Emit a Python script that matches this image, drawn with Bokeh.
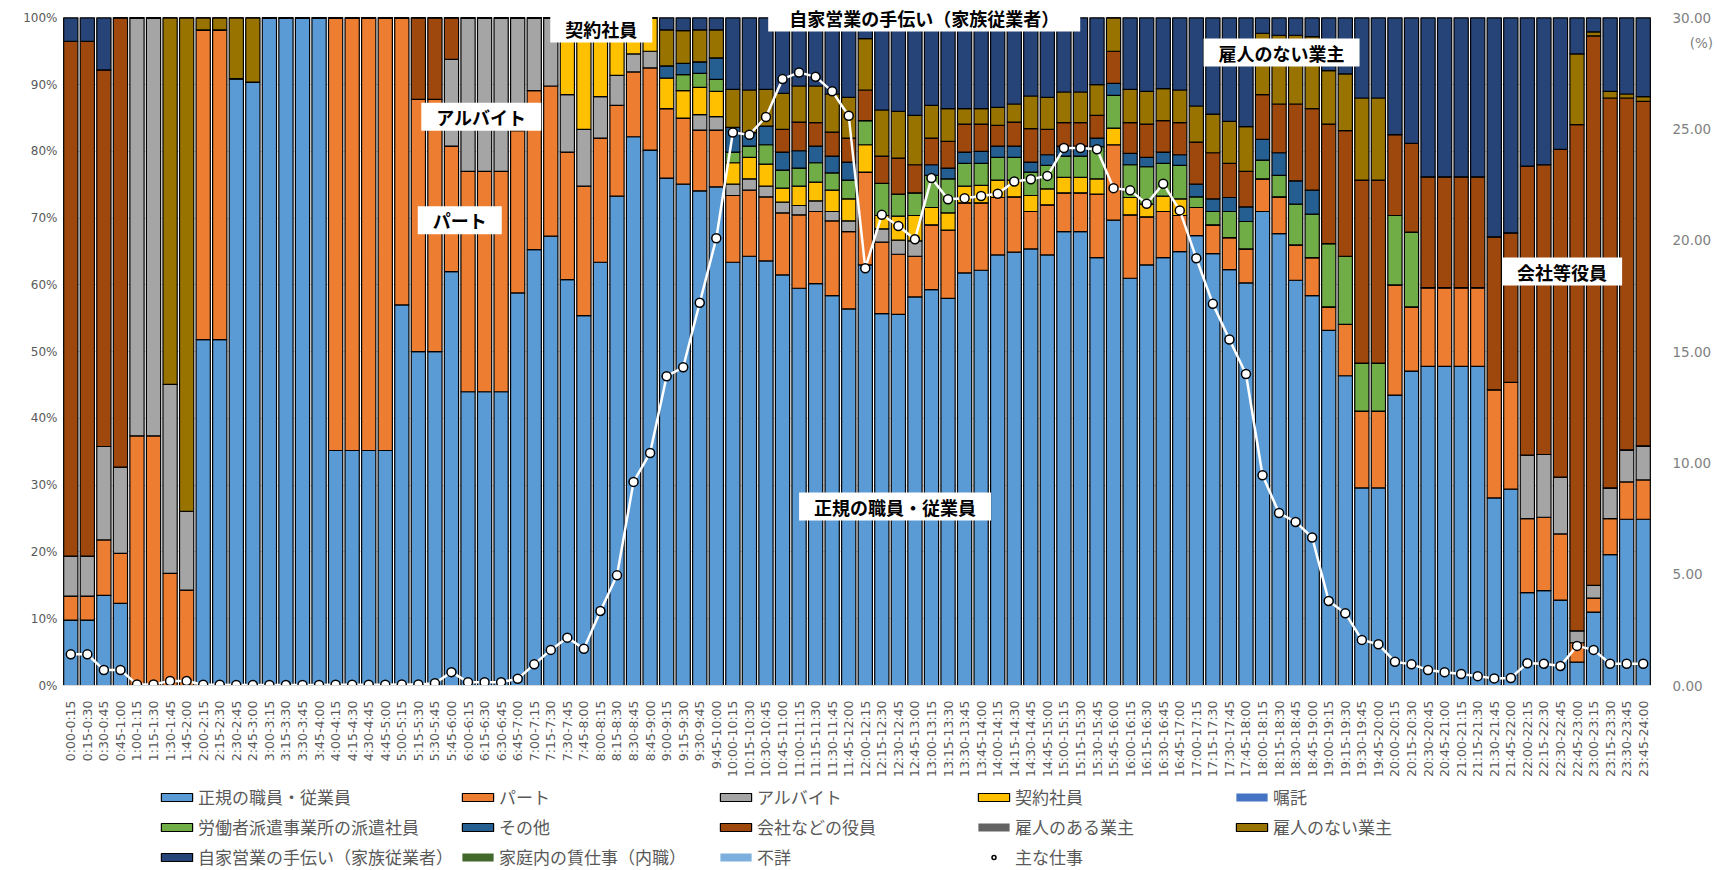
import math
from bokeh.plotting import figure
from bokeh.layouts import column
from bokeh.models import (ColumnDataSource, Range1d, LinearAxis, FixedTicker, PrintfTickFormatter,
                          NumeralTickFormatter, Legend, LegendItem, Label)
from bokeh.transform import stack
from bokeh.core.properties import value
from bokeh.embed import file_html
from bokeh.resources import INLINE

time_labels = [
    "0:00-0:15", "0:15-0:30", "0:30-0:45", "0:45-1:00", "1:00-1:15", "1:15-1:30", "1:30-1:45", "1:45-2:00",
    "2:00-2:15", "2:15-2:30", "2:30-2:45", "2:45-3:00", "3:00-3:15", "3:15-3:30", "3:30-3:45", "3:45-4:00",
    "4:00-4:15", "4:15-4:30", "4:30-4:45", "4:45-5:00", "5:00-5:15", "5:15-5:30", "5:30-5:45", "5:45-6:00",
    "6:00-6:15", "6:15-6:30", "6:30-6:45", "6:45-7:00", "7:00-7:15", "7:15-7:30", "7:30-7:45", "7:45-8:00",
    "8:00-8:15", "8:15-8:30", "8:30-8:45", "8:45-9:00", "9:00-9:15", "9:15-9:30", "9:30-9:45", "9:45-10:00",
    "10:00-10:15", "10:15-10:30", "10:30-10:45", "10:45-11:00", "11:00-11:15", "11:15-11:30", "11:30-11:45", "11:45-12:00",
    "12:00-12:15", "12:15-12:30", "12:30-12:45", "12:45-13:00", "13:00-13:15", "13:15-13:30", "13:30-13:45", "13:45-14:00",
    "14:00-14:15", "14:15-14:30", "14:30-14:45", "14:45-15:00", "15:00-15:15", "15:15-15:30", "15:30-15:45", "15:45-16:00",
    "16:00-16:15", "16:15-16:30", "16:30-16:45", "16:45-17:00", "17:00-17:15", "17:15-17:30", "17:30-17:45", "17:45-18:00",
    "18:00-18:15", "18:15-18:30", "18:30-18:45", "18:45-19:00", "19:00-19:15", "19:15-19:30", "19:30-19:45", "19:45-20:00",
    "20:00-20:15", "20:15-20:30", "20:30-20:45", "20:45-21:00", "21:00-21:15", "21:15-21:30", "21:30-21:45", "21:45-22:00",
    "22:00-22:15", "22:15-22:30", "22:30-22:45", "22:45-23:00", "23:00-23:15", "23:15-23:30", "23:30-23:45", "23:45-24:00",
]

# 正規の職員・従業員
regular = [9.8, 9.8, 13.5, 12.3, 0, 0, 0, 0, 51.8, 51.8, 90.9, 90.4,
           100, 100, 100, 100, 35.2, 35.2, 35.2, 35.2, 57.0, 50.0, 50.0, 62.0,
           44.0, 44.0, 44.0, 58.8, 65.3, 67.3, 60.8, 55.4, 63.4, 73.3, 82.2, 80.2,
           76.0, 75.1, 74.1, 74.7, 63.4, 64.3, 63.6, 61.5, 59.5, 60.2, 58.4, 56.4,
           63.0, 55.7, 55.6, 58.2, 59.3, 58.0, 61.8, 62.2, 64.5, 64.9, 65.4, 64.5,
           68.0, 68.0, 64.1, 69.7, 61.0, 63.0, 64.1, 65.0, 67.4, 64.7, 62.3, 60.3,
           71.0, 67.7, 60.7, 58.4, 53.2, 46.4, 29.6, 29.6, 43.5, 47.1, 47.8, 47.8,
           47.8, 47.8, 28.1, 29.4, 13.9, 14.2, 12.8, 3.5, 11.0, 19.6, 24.9, 24.9]
# パート
part = [3.6, 3.6, 8.3, 7.5, 37.4, 37.4, 16.8, 14.3, 46.4, 46.4, 0, 0,
        0, 0, 0, 0, 64.8, 64.8, 64.8, 64.8, 43.0, 37.8, 37.8, 18.8,
        33.0, 33.0, 33.0, 24.3, 23.8, 22.5, 19.1, 19.4, 18.6, 13.6, 9.7, 12.3,
        10.4, 9.9, 9.1, 8.5, 10.0, 9.9, 9.6, 9.3, 11.0, 10.8, 11.2, 11.6,
        13.9, 10.7, 9.0, 6.1, 9.7, 10.2, 10.5, 10.1, 8.6, 8.3, 5.6, 7.5,
        5.8, 5.8, 9.5, 11.3, 9.5, 7.2, 6.9, 5.4, 4.2, 4.3, 4.8, 5.1,
        4.9, 5.5, 5.3, 5.7, 3.5, 7.7, 11.5, 11.5, 16.5, 9.6, 11.8, 11.8,
        11.8, 11.8, 16.2, 16.0, 11.1, 11.0, 9.9, 2.9, 2.1, 5.4, 5.6, 5.9]
# アルバイト
arbeit = [6.0, 6.0, 14.0, 12.9, 62.6, 62.6, 28.3, 11.8, 0, 0, 0, 0,
          0, 0, 0, 0, 0, 0, 0, 0, 0, 0, 0, 13.0,
          23.0, 23.0, 23.0, 16.9, 10.9, 10.2, 8.6, 8.5, 6.2, 4.5, 2.7, 2.5,
          0, 0, 2.3, 2.0, 1.7, 1.7, 1.6, 1.6, 1.4, 1.6, 1.4, 1.6,
          0, 2.0, 2.1, 2.3, 0, 0, 0, 0, 0, 0, 0, 0,
          0, 0, 0, 0, 0, 0, 0, 0, 0, 0, 0, 0,
          0, 0, 0, 0, 0, 0, 0, 0, 0, 0, 0, 0,
          0, 0, 0, 0, 9.5, 9.4, 8.5, 1.8, 1.9, 4.6, 4.8, 5.1]
# 契約社員
contract = [0, 0, 0, 0, 0, 0, 0, 0, 0, 0, 0, 0,
            0, 0, 0, 0, 0, 0, 0, 0, 0, 0, 0, 0,
            0, 0, 0, 0, 0, 0, 11.5, 16.7, 11.8, 8.6, 5.4, 5.0,
            4.6, 4.1, 4.1, 3.8, 3.2, 3.2, 3.3, 2.1, 2.9, 2.8, 3.2, 3.3,
            4.1, 2.0, 3.6, 3.8, 2.6, 2.6, 2.5, 2.6, 2.6, 2.5, 2.4, 2.4,
            2.3, 2.3, 2.3, 2.5, 2.6, 1.9, 2.3, 2.5, 0, 0, 0, 0,
            0, 0, 0, 0, 0, 0, 0, 0, 0, 0, 0, 0,
            0, 0, 0, 0, 0, 0, 0, 0, 0, 0, 0, 0]
# 嘱託
shokutaku = [0] * 96
# 労働者派遣事業所の派遣社員
dispatched = [0, 0, 0, 0, 0, 0, 0, 0, 0, 0, 0, 0,
              0, 0, 0, 0, 0, 0, 0, 0, 0, 0, 0, 0,
              0, 0, 0, 0, 0, 0, 0, 0, 0, 0, 0, 0,
              0, 2.4, 2.1, 1.8, 1.6, 1.7, 2.9, 2.7, 2.7, 2.9, 2.6, 2.8,
              3.6, 4.8, 3.3, 3.4, 4.8, 5.1, 3.4, 3.3, 3.4, 3.4, 3.5, 3.5,
              3.2, 3.2, 4.8, 4.9, 4.9, 5.6, 4.9, 5.0, 1.6, 2.0, 3.9, 4.1,
              2.8, 3.2, 6.1, 6.5, 9.5, 10.2, 7.2, 7.2, 10.4, 11.2, 0, 0,
              0, 0, 0, 0, 0, 0, 0, 0, 0, 0, 0, 0]
# その他
other = [0, 0, 0, 0, 0, 0, 0, 0, 0, 0, 0, 0,
         0, 0, 0, 0, 0, 0, 0, 0, 0, 0, 0, 0,
         0, 0, 0, 0, 0, 0, 0, 0, 0, 0, 0, 0,
         1.8, 1.7, 1.7, 3.2, 3.7, 2.0, 2.8, 2.7, 2.6, 2.5, 2.5, 2.7,
         0, 0, 0, 0, 1.6, 1.6, 1.7, 1.8, 1.7, 1.7, 1.5, 1.6,
         1.5, 1.5, 1.3, 1.8, 1.7, 1.4, 1.7, 1.6, 1.9, 1.9, 2.1, 2.2,
         3.1, 3.4, 3.5, 3.6, 0, 0, 0, 0, 0, 0, 0, 0,
         0, 0, 0, 0, 0, 0, 0, 0, 0, 0, 0, 0]
# 会社などの役員
executive = [77.1, 77.1, 56.4, 67.3, 0, 0, 0, 0, 0, 0, 0, 0,
             0, 0, 0, 0, 0, 0, 0, 0, 0, 12.2, 12.2, 6.2,
             0, 0, 0, 0, 0, 0, 0, 0, 0, 0, 0, 0,
             0, 0, 0, 0, 0, 0, 0, 3.4, 4.3, 3.5, 3.6, 3.6,
             4.6, 4.1, 5.4, 4.2, 4.0, 4.0, 4.2, 4.1, 3.1, 3.6, 5.0, 3.8,
             3.5, 3.5, 3.4, 4.8, 4.6, 5.0, 4.7, 4.8, 6.3, 6.9, 5.1, 5.3,
             6.7, 7.3, 11.5, 12.2, 17.9, 18.8, 27.4, 27.4, 12.1, 13.3, 16.6, 16.6,
             16.6, 16.6, 22.9, 22.4, 43.3, 43.4, 49.1, 75.8, 82.3, 58.4, 52.7, 51.6]
# 雇人のある業主
employer = [0] * 96
# 雇人のない業主
self_employed = [0, 0, 0, 0, 0, 0, 54.9, 73.9, 1.8, 1.8, 9.1, 9.6,
                 0, 0, 0, 0, 0, 0, 0, 0, 0, 0, 0, 0,
                 0, 0, 0, 0, 0, 0, 0, 0, 0, 0, 0, 0,
                 5.4, 4.9, 4.8, 4.2, 5.7, 6.4, 5.5, 5.4, 5.4, 5.5, 5.7, 6.1,
                 7.7, 6.9, 7.0, 7.4, 4.9, 4.9, 2.3, 2.3, 2.7, 2.7, 4.9, 4.8,
                 4.6, 4.6, 4.6, 5.0, 5.0, 4.9, 4.8, 4.9, 5.4, 5.8, 6.3, 6.7,
                 9.2, 10.3, 10.3, 10.8, 8.0, 8.5, 12.3, 12.3, 0, 0, 0, 0,
                 0, 0, 0, 0, 0, 0, 0, 10.6, 0.6, 1.0, 0.6, 0.7]
# 自家営業の手伝い（家族従業者）
family = [3.5, 3.5, 7.8, 0, 0, 0, 0, 0, 0, 0, 0, 0,
          0, 0, 0, 0, 0, 0, 0, 0, 0, 0, 0, 0,
          0, 0, 0, 0, 0, 0, 0, 0, 0, 0, 0, 0,
          1.8, 1.9, 1.8, 1.8, 10.7, 10.8, 10.7, 11.3, 10.2, 10.2, 11.4, 11.9,
          3.1, 13.8, 14.0, 14.6, 13.1, 13.6, 13.6, 13.6, 13.4, 12.9, 11.7, 11.9,
          11.1, 11.1, 10.0, 0, 10.7, 11.0, 10.6, 10.8, 13.2, 14.4, 15.5, 16.3,
          2.3, 2.6, 2.6, 2.8, 7.9, 8.4, 12.0, 12.0, 17.5, 18.8, 23.8, 23.8,
          23.8, 23.8, 32.8, 32.2, 22.2, 22.0, 19.7, 5.4, 2.1, 11.0, 11.4, 11.8]
# 家庭内の賃仕事（内職）
homework = [0] * 96
# 不詳
unknown = [0] * 96

# 主な仕事 (right axis, %)
main_job = [1.4, 1.4, 0.7, 0.7, 0.05, 0.05, 0.2, 0.2, 0.03, 0.03, 0.02, 0.02,
            0.02, 0.02, 0.02, 0.02, 0.03, 0.03, 0.03, 0.03, 0.05, 0.05, 0.1, 0.6,
            0.15, 0.15, 0.15, 0.3, 0.95, 1.6, 2.15, 1.65, 3.35, 4.95, 9.15, 10.45,
            13.9, 14.3, 17.2, 20.1, 24.85, 24.75, 25.55, 27.25, 27.55, 27.35, 26.7, 25.6,
            18.75, 21.15, 20.65, 20.05, 22.8, 21.85, 21.9, 22.0, 22.1, 22.65, 22.75, 22.9,
            24.15, 24.15, 24.1, 22.35, 22.25, 21.65, 22.55, 21.35, 19.2, 17.15, 15.55, 14.0,
            9.45, 7.75, 7.35, 6.65, 3.8, 3.25, 2.05, 1.85, 1.07, 0.95, 0.7, 0.6,
            0.52, 0.42, 0.32, 0.34, 1.0, 0.98, 0.88, 1.78, 1.6, 0.98, 0.98, 0.98]

series_names = ["正規の職員・従業員", "パート", "アルバイト", "契約社員", "嘱託",
                "労働者派遣事業所の派遣社員", "その他", "会社などの役員", "雇人のある業主",
                "雇人のない業主", "自家営業の手伝い（家族従業者）", "家庭内の賃仕事（内職）", "不詳"]
series_values = [regular, part, arbeit, contract, shokutaku, dispatched, other, executive,
                 employer, self_employed, family, homework, unknown]
series_colors = ["#5B9BD5", "#ED7D31", "#A5A5A5", "#FFC000", "#4472C4", "#70AD47", "#255E91",
                 "#9E480E", "#636363", "#997300", "#264478", "#43682B", "#7CAFDD"]
no_outline = {"嘱託", "雇人のある業主", "家庭内の賃仕事（内職）", "不詳"}

left_ticks = [0, 10, 20, 30, 40, 50, 60, 70, 80, 90, 100]
right_ticks = [0, 5, 10, 15, 20, 25, 30]
# the frame reaches a little above 100% so the top annotation fits inside it
Y_TOP = 102.156
R_TOP = 30.0 * Y_TOP / 100.0

keys = ["s%d" % i for i in range(len(series_names))]
data = {"x": list(range(len(time_labels))), "main": main_job}
for k, v in zip(keys, series_values):
    data[k] = v
src = ColumnDataSource(data)

bar_style = dict(width=0.86, line_width=1.2)
line_style = dict(line_color="white", line_width=2.5)
dot_style = dict(marker="circle", size=9, fill_color="white", line_color="black", line_width=1.5)


def draw_series(fig, y_range_name):
    rends = []
    for i, k in enumerate(keys):
        lc = None if series_names[i] in no_outline else "black"
        r = fig.vbar(x="x", bottom=stack(*keys[:i]), top=stack(*keys[:i + 1]), source=src,
                     fill_color=series_colors[i], line_color=lc, y_range_name=y_range_name,
                     **bar_style)
        rends.append(r)
    lr = fig.line("x", "main", source=src, y_range_name="r", **line_style)
    sr = fig.scatter("x", "main", source=src, y_range_name="r", **dot_style)
    return rends, lr, sr


W = 1716
p = figure(width=W, height=780, x_range=Range1d(-0.5, 95.5), y_range=Range1d(0, Y_TOP),
           output_backend="svg", toolbar_location=None,
           min_border_left=62, min_border_right=57, min_border_top=3, min_border_bottom=90)
p.outline_line_color = None
p.background_fill_color = "white"
p.extra_y_ranges = {"r": Range1d(0, R_TOP)}
draw_series(p, "default")

# axes
p.xaxis.ticker = FixedTicker(ticks=list(range(len(time_labels))))
p.xaxis.major_label_overrides = {i: t for i, t in enumerate(time_labels)}
p.xaxis.major_label_orientation = math.pi / 2
p.xaxis.major_label_text_font = "DejaVu Sans"
p.xaxis.major_label_text_font_size = "12.5px"
p.xaxis.major_label_text_color = "#595959"
p.xaxis.major_tick_line_color = None
p.xaxis.minor_tick_line_color = None
p.xaxis.axis_line_color = "#d9d9d9"
p.xaxis.major_label_standoff = 9

p.yaxis.ticker = FixedTicker(ticks=left_ticks)
p.yaxis.formatter = PrintfTickFormatter(format="%d%%")
p.yaxis.major_label_text_font = "DejaVu Sans"
p.yaxis.major_label_text_font_size = "12px"
p.yaxis.major_label_text_color = "#595959"
p.yaxis.major_tick_line_color = None
p.yaxis.minor_tick_line_color = None
p.yaxis.major_tick_out = 0
p.yaxis.axis_line_color = None
p.yaxis.major_label_standoff = 5

unit_pos = 28.85  # where the "(%)" unit sits on the right axis
raxis = LinearAxis(y_range_name="r", ticker=FixedTicker(ticks=right_ticks + [unit_pos]),
                   formatter=NumeralTickFormatter(format="0.00"))
raxis.major_label_overrides = {unit_pos: "\u00a0\u00a0\u00a0\u00a0(%)"}
raxis.major_label_text_font = "DejaVu Sans"
raxis.major_label_text_font_size = "13.5px"
raxis.major_label_text_color = "#7f7f7f"
raxis.major_tick_line_color = None
raxis.minor_tick_line_color = None
raxis.axis_line_color = None
raxis.major_label_standoff = 15
p.add_layout(raxis, "right")

p.xgrid.grid_line_color = None
p.ygrid.ticker = FixedTicker(ticks=left_ticks)
p.ygrid.grid_line_color = "#d9d9d9"

# annotations (text, x, y, horizontal padding)
ann = [("契約社員", 32.05, 98.4, 15), ("自家営業の手伝い（家族従業者）", 51.56, 100.05, 21),
       ("雇人のない業主", 73.15, 94.8, 15), ("アルバイト", 24.8, 85.2, 15), ("パート", 23.5, 69.7, 15),
       ("正規の職員・従業員", 49.8, 26.8, 15), ("会社等役員", 90.1, 62.0, 15)]
for t, xx, yy, hp in ann:
    p.add_layout(Label(x=xx, y=yy, text=t, text_align="center", text_baseline="middle",
                       text_font="Noto Sans CJK JP", text_font_style="bold", text_font_size="18px",
                       text_color="black", background_fill_color="white", padding=(hp, 1)))

# legend strip: its own figure so the legend can sit below the axis labels.
# The same series are drawn there on a range far outside its frame, so only the legend shows.
LH = 89
pl = figure(width=W, height=LH, x_range=Range1d(-0.5, 95.5), y_range=Range1d(0, 1),
            output_backend="svg", toolbar_location=None, x_axis_location=None, y_axis_location=None,
            min_border_left=0, min_border_right=0, min_border_top=0, min_border_bottom=0)
pl.outline_line_color = None
pl.grid.visible = False
pl.extra_y_ranges = {"off": Range1d(5000, 5001), "r": Range1d(5000, 5001)}
bar_rends, lr, sr = draw_series(pl, "off")
items = [LegendItem(label=n, renderers=[r]) for n, r in zip(series_names, bar_rends)]
items.append(LegendItem(label="主な仕事", renderers=[lr, sr]))
legend = Legend(items=items, ncols=5, orientation="horizontal", location=(95, 0),
                glyph_width=39, glyph_height=10, label_width=212, label_height=24,
                label_standoff=2, spacing=5, padding=0, margin=0,
                border_line_color=None, background_fill_alpha=0,
                label_text_font="Noto Sans CJK JP", label_text_font_size="17px",
                label_text_color="#595959")
pl.add_layout(legend, "center")

layout = column(p, pl, spacing=0)
open("out.html", "w").write(file_html(layout, INLINE))
